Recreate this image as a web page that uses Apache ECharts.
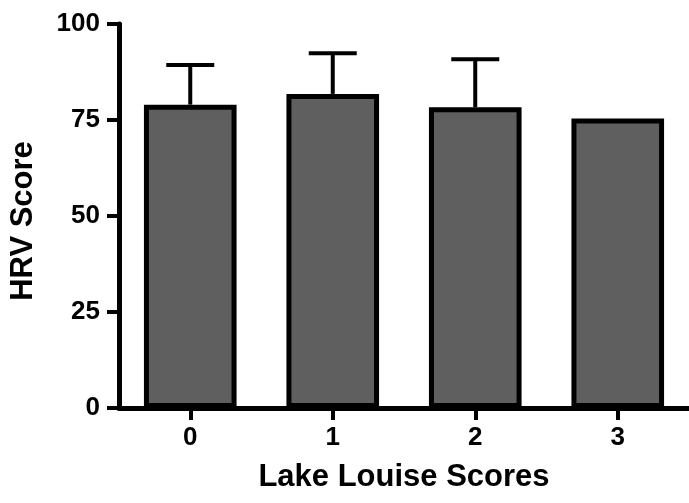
<!DOCTYPE html>
<html>
<head>
<meta charset="utf-8">
<script src="https://cdn.jsdelivr.net/npm/echarts@6/dist/echarts.min.js"></script>
<style>
html,body{margin:0;padding:0;background:#fff;}
#c{width:689px;height:503px;}
</style>
</head>
<body>
<div id="c"></div>
<script>
const categories = ['0', '1', '2', '3'];
const means = [79.0, 81.8, 78.3, 75.4];
const errors = [10.3, 10.6, 12.5, 0];
const yTicks = [0, 25, 50, 75, 100];

const FONT = '"Liberation Sans", Arial, sans-serif';
const chart = echarts.init(document.getElementById('c'), null, {renderer: 'canvas'});

const errData = categories.map((c, i) => [i, means[i], means[i] + errors[i]]);

chart.setOption({
  animation: false,
  backgroundColor: '#ffffff',
  grid: {left: 115, right: -2, top: 24, bottom: 95, containLabel: false},
  xAxis: {
    type: 'category',
    data: categories,
    name: 'Lake Louise Scores',
    nameLocation: 'middle',
    nameGap: 54,
    nameTextStyle: {fontFamily: FONT, fontWeight: 'bold', fontSize: 31, color: '#000'},
    axisLine: {show: true, lineStyle: {color: '#000', width: 5}},
    axisTick: {show: true, alignWithLabel: true, length: 12, lineStyle: {color: '#000', width: 4}},
    axisLabel: {fontFamily: FONT, fontWeight: 'bold', fontSize: 26, color: '#000', margin: 17},
    splitLine: {show: false}
  },
  yAxis: {
    type: 'value',
    min: 0,
    max: 100,
    interval: 25,
    name: 'HRV Score',
    nameLocation: 'middle',
    nameRotate: 90,
    nameGap: 80,
    nameTextStyle: {fontFamily: FONT, fontWeight: 'bold', fontSize: 31, color: '#000', padding: [0, 10, 0, 0]},
    axisLine: {show: true, lineStyle: {color: '#000', width: 5}},
    axisTick: {show: true, length: 12, lineStyle: {color: '#000', width: 4}},
    axisLabel: {
      fontFamily: FONT, fontWeight: 'bold', fontSize: 26, color: '#000', margin: 19,
      formatter: v => (yTicks.indexOf(v) >= 0 ? String(v) : '')
    },
    splitLine: {show: false}
  },
  series: [
    {
      type: 'custom',
      z: 1,
      renderItem: function (params, api) {
        const x = api.value(0);
        const lo = api.coord([x, api.value(1)]);
        const hi = api.coord([x, api.value(2)]);
        if (Math.abs(lo[1] - hi[1]) < 0.5) return {type: 'group', children: []};
        const half = 24;
        return {
          type: 'group',
          children: [
            {type: 'line', shape: {x1: lo[0], y1: lo[1], x2: hi[0], y2: hi[1]},
             style: {stroke: '#000', lineWidth: 4}},
            {type: 'line', shape: {x1: hi[0] - half, y1: hi[1], x2: hi[0] + half, y2: hi[1]},
             style: {stroke: '#000', lineWidth: 4}}
          ]
        };
      },
      data: errData
    },
    {
      type: 'bar',
      z: 2,
      data: means,
      barWidth: '65%',
      itemStyle: {color: '#5f5f5f', borderColor: '#000', borderWidth: 5}
    }
  ]
});
</script>
</body>
</html>
